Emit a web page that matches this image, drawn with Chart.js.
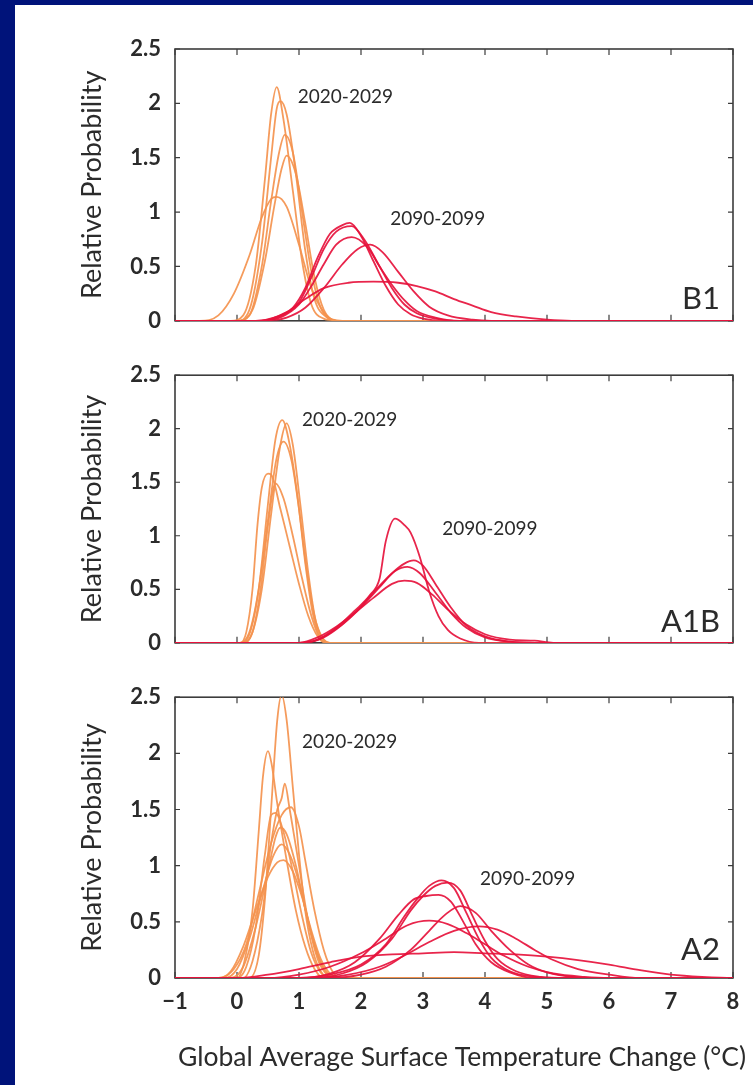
<!DOCTYPE html>
<html lang="en">
<head>
    <meta charset="UTF-8">
    <title>Relative Probability of Warming</title>
    <script src="https://cdn.jsdelivr.net/npm/chart.js@4.4.1/dist/chart.umd.min.js"></script>
    <style>
        body { margin: 0; background: #00137a; width: 753px; height: 1085px; overflow: hidden; }
        #sheet { position: absolute; left: 15px; top: 5px; width: 738px; height: 1080px; background: #fff; }
        canvas { position: absolute; left: 15px; }
    </style>
</head>
<body>
    <div id="sheet"></div>
    <canvas id="b1" width="738" height="343" style="top:5px"></canvas>
    <canvas id="a1b" width="738" height="322" style="top:348px"></canvas>
    <canvas id="a2" width="738" height="415" style="top:670px"></canvas>
<script>
    // axis ticks
    const xTicks = [-1, 0, 1, 2, 3, 4, 5, 6, 7, 8];
    const yTicks = [0, 0.5, 1, 1.5, 2, 2.5];
    const xTitle = 'Global Average Surface Temperature Change (°C)';
    const yTitle = 'Relative Probability';

    // B1 scenario, 2020-2029 (orange) and 2090-2099 (red)
    const b1Near = [
        [[-0.1,0],[0.1,0.05],[0.3,0.5],[0.45,1.3],[0.55,1.9],[0.64,2.15],[0.75,1.85],[0.9,1.2],[1.05,0.55],[1.2,0.15],[1.4,0.02],[1.6,0]],
        [[0.0,0],[0.2,0.1],[0.4,0.7],[0.55,1.5],[0.64,1.95],[0.7,2.02],[0.8,1.9],[0.95,1.35],[1.1,0.65],[1.25,0.2],[1.45,0.03],[1.6,0]],
        [[0.0,0],[0.2,0.05],[0.4,0.5],[0.55,1.1],[0.68,1.55],[0.77,1.71],[0.9,1.55],[1.05,1.0],[1.2,0.45],[1.35,0.12],[1.55,0.01],[1.7,0]],
        [[0.0,0],[0.25,0.1],[0.45,0.55],[0.6,1.05],[0.72,1.4],[0.8,1.52],[0.95,1.35],[1.1,0.9],[1.25,0.4],[1.4,0.1],[1.6,0]],
        [[-0.6,0],[-0.3,0.05],[-0.05,0.25],[0.2,0.6],[0.4,0.95],[0.55,1.12],[0.64,1.14],[0.8,1.05],[1.0,0.7],[1.2,0.3],[1.4,0.08],[1.6,0]]
    ];
    const b1Far = [
        [[0.3,0],[0.6,0.03],[0.9,0.12],[1.1,0.3],[1.3,0.58],[1.5,0.8],[1.7,0.88],[1.82,0.9],[2.0,0.78],[2.2,0.55],[2.4,0.32],[2.6,0.15],[2.8,0.06],[3.0,0.02],[3.3,0]],
        [[0.4,0],[0.7,0.04],[1.0,0.17],[1.2,0.4],[1.4,0.66],[1.6,0.82],[1.85,0.87],[2.05,0.75],[2.3,0.5],[2.5,0.3],[2.7,0.15],[2.9,0.07],[3.2,0.02],[3.5,0]],
        [[0.4,0],[0.7,0.03],[1.0,0.15],[1.2,0.32],[1.4,0.52],[1.6,0.7],[1.85,0.77],[2.1,0.68],[2.3,0.5],[2.5,0.33],[2.7,0.19],[2.9,0.09],[3.2,0.03],[3.6,0]],
        [[0.5,0],[0.8,0.03],[1.1,0.12],[1.4,0.3],[1.7,0.52],[1.95,0.66],[2.15,0.7],[2.35,0.63],[2.6,0.45],[2.85,0.27],[3.1,0.13],[3.4,0.05],[3.8,0.01],[4.1,0]],
        [[0.4,0],[0.8,0.08],[1.1,0.2],[1.4,0.3],[1.8,0.35],[2.2,0.36],[2.6,0.35],[2.9,0.32],[3.2,0.27],[3.5,0.2],[3.8,0.14],[4.1,0.08],[4.5,0.04],[5.0,0.01],[5.4,0]]
    ];

    // A1B scenario
    const a1bNear = [
        [[0.05,0],[0.2,0.08],[0.35,0.5],[0.5,1.3],[0.62,1.9],[0.73,2.08],[0.85,1.85],[0.98,1.35],[1.1,0.75],[1.22,0.28],[1.35,0.04],[1.45,0]],
        [[0.1,0],[0.25,0.1],[0.4,0.5],[0.55,1.2],[0.7,1.85],[0.8,2.05],[0.9,1.85],[1.02,1.3],[1.15,0.65],[1.27,0.2],[1.4,0.03],[1.5,0]],
        [[0.05,0],[0.2,0.1],[0.35,0.5],[0.5,1.15],[0.63,1.7],[0.75,1.88],[0.88,1.7],[1.0,1.25],[1.12,0.7],[1.25,0.25],[1.38,0.04],[1.48,0]],
        [[0.05,0],[0.15,0.1],[0.25,0.5],[0.33,1.1],[0.4,1.45],[0.5,1.58],[0.55,1.57],[0.7,1.25],[0.85,0.9],[1.0,0.55],[1.15,0.25],[1.3,0.06],[1.42,0]],
        [[0.1,0],[0.25,0.1],[0.38,0.5],[0.5,1.1],[0.62,1.49],[0.75,1.35],[0.9,1.0],[1.05,0.6],[1.2,0.25],[1.33,0.05],[1.45,0]]
    ];
    const a1bFar = [
        [[1.0,0],[1.3,0.03],[1.6,0.14],[1.9,0.3],[2.15,0.45],[2.3,0.6],[2.4,0.95],[2.55,1.16],[2.7,1.1],[2.8,1.03],[2.95,0.8],[3.1,0.48],[3.25,0.25],[3.4,0.12],[3.6,0.04],[3.9,0]],
        [[1.0,0],[1.3,0.03],[1.6,0.13],[1.9,0.28],[2.2,0.47],[2.5,0.65],[2.7,0.74],[2.85,0.77],[3.0,0.72],[3.2,0.55],[3.45,0.33],[3.7,0.16],[4.0,0.06],[4.4,0.01],[4.8,0]],
        [[1.1,0],[1.4,0.05],[1.7,0.17],[2.0,0.33],[2.3,0.52],[2.55,0.67],[2.75,0.71],[2.95,0.65],[3.2,0.47],[3.45,0.28],[3.7,0.14],[4.0,0.05],[4.4,0.01],[4.8,0]],
        [[1.0,0],[1.3,0.05],[1.6,0.15],[1.9,0.28],[2.2,0.42],[2.5,0.55],[2.7,0.58],[2.9,0.56],[3.15,0.45],[3.4,0.31],[3.7,0.17],[4.0,0.08],[4.4,0.03],[4.8,0.02],[5.1,0]]
    ];

    // A2 scenario
    const a2Near = [
        [[0.2,0],[0.35,0.2],[0.45,0.7],[0.55,1.5],[0.65,2.3],[0.72,2.52],[0.8,2.3],[0.9,1.7],[1.0,1.1],[1.1,0.6],[1.22,0.25],[1.35,0.06],[1.5,0]],
        [[0.0,0],[0.12,0.15],[0.25,0.6],[0.35,1.3],[0.42,1.8],[0.5,2.02],[0.56,1.9],[0.65,1.55],[0.8,1.05],[0.95,0.6],[1.1,0.28],[1.25,0.08],[1.4,0]],
        [[0.1,0],[0.25,0.15],[0.4,0.55],[0.55,1.2],[0.65,1.5],[0.72,1.6],[0.77,1.73],[0.85,1.5],[1.0,1.0],[1.15,0.5],[1.3,0.17],[1.45,0.03],[1.55,0]],
        [[-0.3,0],[-0.05,0.08],[0.15,0.3],[0.35,0.75],[0.55,1.2],[0.72,1.45],[0.87,1.52],[1.0,1.35],[1.1,1.05],[1.25,0.6],[1.4,0.25],[1.55,0.05],[1.7,0]],
        [[0.0,0],[0.15,0.1],[0.3,0.45],[0.45,1.1],[0.55,1.45],[0.62,1.47],[0.75,1.3],[0.9,0.95],[1.05,0.55],[1.2,0.22],[1.35,0.05],[1.5,0]],
        [[-0.1,0],[0.1,0.1],[0.3,0.45],[0.5,0.95],[0.62,1.25],[0.7,1.34],[0.8,1.28],[0.95,1.0],[1.1,0.62],[1.25,0.3],[1.4,0.08],[1.55,0]],
        [[-0.2,0],[0.0,0.08],[0.2,0.35],[0.4,0.75],[0.58,1.08],[0.72,1.19],[0.85,1.1],[1.0,0.85],[1.15,0.5],[1.3,0.2],[1.45,0.05],[1.6,0]],
        [[-0.3,0],[-0.1,0.06],[0.1,0.28],[0.3,0.6],[0.5,0.9],[0.65,1.03],[0.75,1.05],[0.9,0.95],[1.05,0.72],[1.2,0.42],[1.35,0.17],[1.5,0.04],[1.65,0]]
    ];
    const a2Far = [
        [[1.0,0],[1.5,0.03],[2.0,0.12],[2.4,0.3],[2.7,0.55],[2.9,0.7],[3.1,0.82],[3.3,0.87],[3.5,0.8],[3.7,0.58],[3.9,0.35],[4.1,0.18],[4.4,0.06],[4.8,0.01],[5.2,0]],
        [[1.2,0],[1.7,0.04],[2.1,0.14],[2.5,0.35],[2.8,0.6],[3.0,0.73],[3.2,0.82],[3.4,0.85],[3.6,0.78],[3.8,0.55],[4.0,0.33],[4.2,0.17],[4.5,0.06],[4.9,0.01],[5.3,0]],
        [[1.0,0],[1.5,0.04],[1.9,0.14],[2.3,0.35],[2.6,0.56],[2.85,0.7],[3.05,0.73],[3.25,0.74],[3.45,0.68],[3.65,0.5],[3.85,0.3],[4.1,0.14],[4.4,0.05],[4.8,0]],
        [[1.5,0],[2.0,0.03],[2.4,0.1],[2.8,0.25],[3.1,0.42],[3.35,0.56],[3.6,0.64],[3.85,0.58],[4.1,0.42],[4.4,0.25],[4.7,0.12],[5.0,0.05],[5.4,0.01],[5.8,0]],
        [[0.5,0],[1.0,0.03],[1.5,0.1],[2.0,0.22],[2.4,0.35],[2.75,0.47],[3.1,0.51],[3.4,0.48],[3.7,0.4],[4.0,0.3],[4.3,0.2],[4.7,0.1],[5.1,0.04],[5.6,0.01],[6.0,0]],
        [[1.2,0],[1.8,0.03],[2.3,0.1],[2.7,0.2],[3.1,0.32],[3.5,0.42],[3.9,0.46],[4.2,0.43],[4.5,0.35],[4.8,0.25],[5.1,0.16],[5.5,0.08],[6.0,0.03],[6.5,0]],
        [[0.0,0],[0.5,0.03],[1.0,0.08],[1.5,0.14],[2.0,0.19],[2.5,0.21],[3.0,0.22],[3.5,0.23],[4.0,0.22],[4.5,0.21],[5.0,0.19],[5.5,0.16],[6.0,0.12],[6.5,0.07],[7.0,0.03],[7.5,0.01],[8.0,0]]
    ];

    const periodNames = ['2020-2029', '2090-2099'];

    const ORANGE = 'rgba(244, 146, 78, 0.92)';
    const RED = 'rgba(230, 18, 60, 0.92)';
    const INK = '#2b2b2b';
    const FONT = 'Lato, "Open Sans", sans-serif';

    // frame with inward tick marks on all four sides
    const framePlugin = {
        id: 'frame',
        beforeDatasetsDraw(chart) {
            const { ctx, chartArea: a, scales: { x, y } } = chart;
            ctx.save();
            ctx.strokeStyle = '#3c3c3c';
            ctx.lineWidth = 1.6;
            ctx.strokeRect(a.left, a.top, a.right - a.left, a.bottom - a.top);
            ctx.lineWidth = 1.2;
            ctx.beginPath();
            xTicks.forEach(v => {
                const px = x.getPixelForValue(v);
                ctx.moveTo(px, a.top); ctx.lineTo(px, a.top + 6);
                ctx.moveTo(px, a.bottom); ctx.lineTo(px, a.bottom - 6);
            });
            yTicks.forEach(v => {
                const py = y.getPixelForValue(v);
                ctx.moveTo(a.left, py); ctx.lineTo(a.left + 5, py);
                ctx.moveTo(a.right, py); ctx.lineTo(a.right - 5, py);
            });
            ctx.stroke();
            ctx.restore();
        }
    };

    // period labels, scenario name and (bottom panel only) the x title
    const notesPlugin = {
        id: 'notes',
        afterDatasetsDraw(chart, args, opts) {
            const { ctx, chartArea: a, scales: { x, y } } = chart;
            ctx.save();
            ctx.fillStyle = INK;
            ctx.textBaseline = 'middle';
            ctx.textAlign = 'left';
            ctx.font = '19px ' + FONT;
            opts.periods.forEach((p, i) => {
                ctx.fillText(periodNames[i], x.getPixelForValue(p[0]), y.getPixelForValue(p[1]));
            });
            ctx.textAlign = 'right';
            ctx.textBaseline = 'alphabetic';
            ctx.font = '31px ' + FONT;
            ctx.fillText(opts.name, x.getPixelForValue(opts.nameAt[0]), y.getPixelForValue(opts.nameAt[1]));
            if (opts.xTitle) {
                ctx.textAlign = 'center';
                ctx.textBaseline = 'middle';
                ctx.font = '26.5px ' + FONT;
                ctx.fillText(xTitle, (a.left + a.right) / 2 + 8, chart.height - 28);
            }
            ctx.restore();
        }
    };

    function makePanel(id, near, far, notes, bottom) {
        const datasets = [];
        far.forEach(c => datasets.push({ data: [[-1, 0], ...c, [8, 0]], borderColor: RED }));
        near.forEach(c => datasets.push({ data: [[-1, 0], ...c, [8, 0]], borderColor: ORANGE }));
        datasets.forEach(d => {
            d.borderWidth = 1.8;
            d.pointRadius = 0;
            d.fill = false;
            d.cubicInterpolationMode = 'monotone';
        });

        const pad = bottom ? { left: 0, right: 20, top: 22, bottom: 0 }
                           : { left: 0, right: 20, top: notes.padTop, bottom: 12 };
        notes.xTitle = bottom;

        new Chart(document.getElementById(id), {
            type: 'line',
            data: { datasets },
            plugins: [framePlugin, notesPlugin],
            options: {
                responsive: false,
                animation: false,
                layout: { padding: pad },
                plugins: {
                    legend: { display: false },
                    tooltip: { enabled: false },
                    notes: notes
                },
                scales: {
                    x: {
                        type: 'linear',
                        min: -1, max: 8,
                        display: bottom,
                        grid: { display: false, drawTicks: false },
                        border: { display: false },
                        afterBuildTicks: s => { s.ticks = xTicks.map(v => ({ value: v })); },
                        afterFit: s => { if (bottom) s.height = 107; },
                        ticks: {
                            padding: 11,
                            color: INK,
                            font: { family: FONT, size: 22, weight: 'bold' },
                            callback: v => v < 0 ? '\u2212' + Math.abs(v) : String(v)
                        },
                        title: { display: false }
                    },
                    y: {
                        min: 0, max: 2.5,
                        grid: { display: false, drawTicks: false },
                        border: { display: false },
                        afterBuildTicks: s => { s.ticks = yTicks.map(v => ({ value: v })); },
                        afterFit: s => { s.width = 160; },
                        ticks: {
                            padding: 14,
                            color: INK,
                            font: { family: FONT, size: 22, weight: 'bold' },
                            callback: v => String(v)
                        },
                        title: {
                            display: true,
                            text: yTitle,
                            color: INK,
                            font: { family: FONT, size: 27 },
                            padding: { top: 61, bottom: 0 }
                        }
                    }
                }
            }
        });
    }

    makePanel('b1', b1Near, b1Far,
        { padTop: 44, name: 'B1', nameAt: [7.79, 0.11], periods: [[0.98, 2.06], [2.47, 0.94]] }, false);
    makePanel('a1b', a1bNear, a1bFar,
        { padTop: 24, name: 'A1B', nameAt: [7.79, 0.1], periods: [[1.05, 2.08], [3.31, 1.06]] }, false);
    makePanel('a2', a2Near, a2Far,
        { name: 'A2', nameAt: [7.79, 0.16], periods: [[1.05, 2.1], [3.92, 0.88]] }, true);
</script>
</body>
</html>
